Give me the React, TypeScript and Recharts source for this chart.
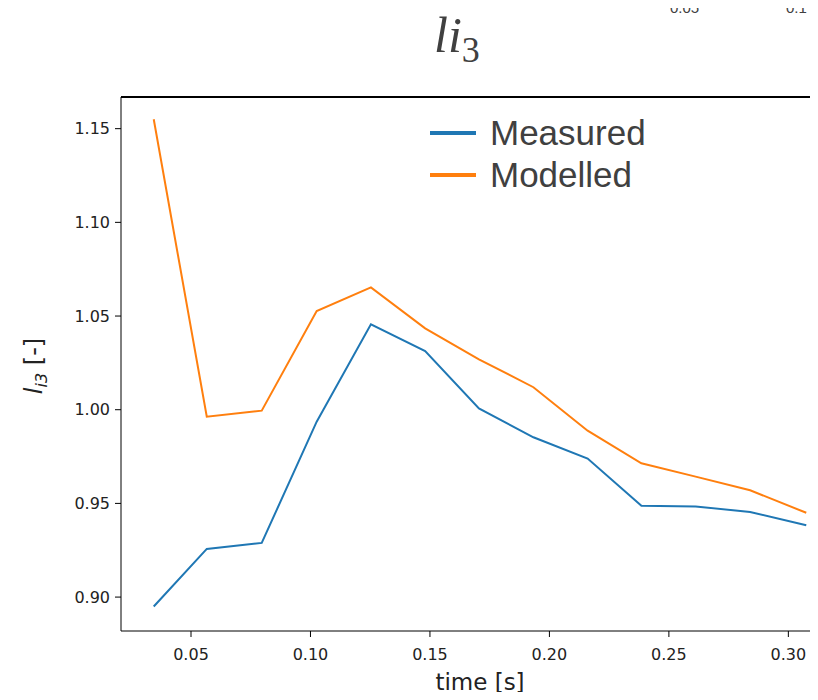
import React from 'react'
import { LineChart, Line, XAxis, YAxis, ReferenceLine } from 'recharts'

// time stamps of the samples [s]
const times = [0.0344, 0.0566, 0.0796, 0.1026, 0.1253, 0.148, 0.1705, 0.1933, 0.216, 0.2385, 0.2612, 0.284, 0.3075]
// l_i3 measured on the rig
const measured = [0.895, 0.9257, 0.9289, 0.9936, 1.0456, 1.0313, 1.0007, 0.9853, 0.9739, 0.9488, 0.9484, 0.9454, 0.9383]
// l_i3 from the model
const modelled = [1.155, 0.9963, 0.9995, 1.0527, 1.0653, 1.0434, 1.0269, 1.012, 0.9888, 0.9714, 0.9643, 0.957, 0.945]

const xTicks = [0.05, 0.1, 0.15, 0.2, 0.25, 0.3]
const yTicks = [0.9, 0.95, 1.0, 1.05, 1.1, 1.15]

const xDomain = [0.0207, 0.3212]
const yDomain = [0.8819, 1.1669]

const data = times.map((t, i) => ({ t, measured: measured[i], modelled: modelled[i] }))

const tickFont = { fontFamily: 'DejaVu Sans', fontSize: 16, fill: '#222' }
const textGrey = '#404040'

const YLabel = () => (
  <text
    x={42}
    y={366}
    transform="rotate(-90 42 366)"
    textAnchor="middle"
    fontFamily="DejaVu Sans"
    fontSize={24}
    fill="#222"
  >
    <tspan fontStyle="italic">l</tspan>
    <tspan fontStyle="italic" fontSize={16} dy={5}>i3</tspan>
    <tspan dy={-5}> [-]</tspan>
  </text>
)

const Legend = () => (
  <div style={{ position: 'absolute', left: 430, top: 112, fontFamily: 'Liberation Sans', fontSize: 35, color: textGrey, lineHeight: '42px' }}>
    {[['Measured', '#1f77b4'], ['Modelled', '#ff7f0e']].map(([name, color]) => (
      <div key={name} style={{ display: 'flex', alignItems: 'center' }}>
        <span style={{ display: 'inline-block', width: 46, height: 4, background: color, marginRight: 14 }} />
        {name}
      </div>
    ))}
  </div>
)

export default function App() {
  return (
    <div style={{ position: 'relative', margin: -8, width: 818, height: 700, overflow: 'hidden', background: '#fff' }}>
      {/* tick labels of the panel above */}
      <div style={{ position: 'absolute', left: 670, top: 0, fontFamily: 'Liberation Sans', fontSize: 15, lineHeight: '16px', color: textGrey }}>0.05</div>
      <div style={{ position: 'absolute', left: 786, top: 0, fontFamily: 'Liberation Sans', fontSize: 15, lineHeight: '16px', color: textGrey }}>0.1</div>
      <div style={{ position: 'absolute', left: 434, top: 6, fontFamily: 'Liberation Serif', fontStyle: 'italic', fontSize: 50, color: textGrey }}>
        li<span style={{ fontSize: 36, position: 'relative', top: 10, fontStyle: 'normal' }}>3</span>
      </div>
      <div style={{ position: 'absolute', left: 0, top: 0 }}>
        <LineChart width={862} height={700} data={data} margin={{ top: 97, right: 23, bottom: 0, left: 0 }}>
          <XAxis
            dataKey="t"
            type="number"
            domain={xDomain}
            ticks={xTicks}
            tickFormatter={(v: number) => v.toFixed(2)}
            tick={tickFont}
            tickSize={6}
            tickMargin={12}
            height={69}
            allowDataOverflow
            stroke="#000"
            label={{ value: 'time [s]', position: 'insideBottom', offset: 10, style: { fontFamily: 'DejaVu Sans', fontSize: 23, fill: '#222' } }}
          />
          <YAxis
            type="number"
            domain={yDomain}
            ticks={yTicks}
            tickFormatter={(v: number) => v.toFixed(2)}
            tick={tickFont}
            tickSize={6}
            tickMargin={5}
            width={121}
            allowDataOverflow
            stroke="#000"
            label={<YLabel />}
          />
          {/* top spine */}
          <ReferenceLine y={yDomain[1]} stroke="#000" strokeWidth={2} ifOverflow="visible" />
          <Line dataKey="measured" stroke="#1f77b4" strokeWidth={2} dot={false} isAnimationActive={false} />
          <Line dataKey="modelled" stroke="#ff7f0e" strokeWidth={2} dot={false} isAnimationActive={false} />
        </LineChart>
      </div>
      <Legend />
    </div>
  )
}
